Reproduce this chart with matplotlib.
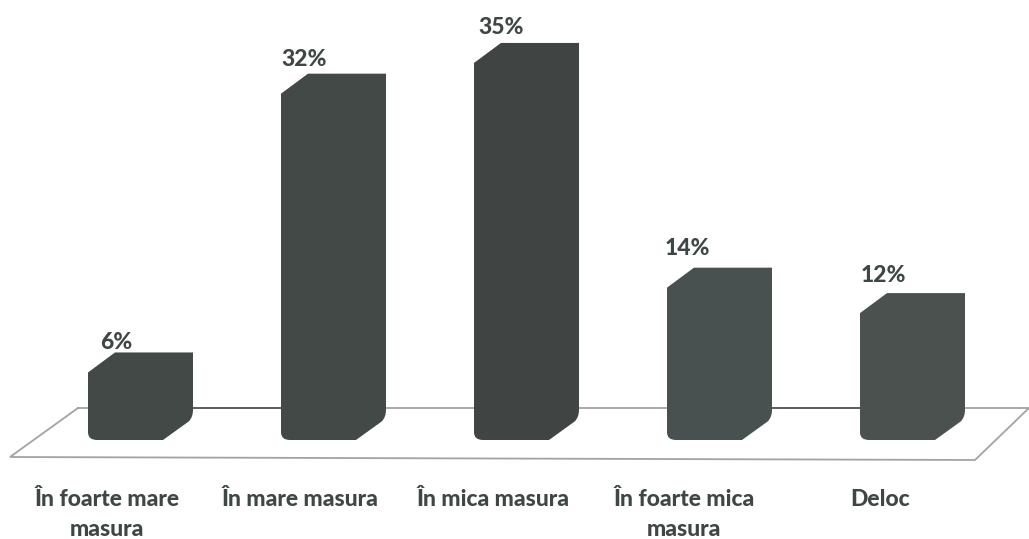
import matplotlib
matplotlib.use("Agg")
import matplotlib.pyplot as plt
from matplotlib.path import Path
from matplotlib.patches import PathPatch

plt.rcParams['font.family'] = ['Lato', 'DejaVu Sans']

categories = ["În foarte mare\nmasura", "În mare masura", "În mica masura", "În foarte mica\nmasura", "Deloc"]
values = [5.9, 32.2, 35.1, 13.9, 11.5]
bar_colors = ["#434947", "#434947", "#404544", "#495050", "#4a514f"]

text_color = "#3f4746"
floor_color = "#a3a3a3"

W, H = 1029, 539
px_per_cat = 193.0   # pixels between bars
px_per_pct = 10.6    # pixels for 1%
base_px = 415        # where 0% sits, on the back of the floor

dx = 30 / px_per_cat   # 3d depth of the bar
dy = 20 / px_per_pct
front_low = -25 / px_per_pct

# nudges of the labels in pixels, the reference has them a bit uneven
value_dx = [-24.5, -29.5, -25.5, -32.5, -29.5]
value_dy = [10, 14.5, 15, 19, 18]
cat_dx = [-33.5, -33.5, -33.5, -35.5, -32.5]

fig = plt.figure(figsize=(W / 100, H / 100), dpi=100)
ax = fig.add_axes([0, 0, 1, 1])
ax.set_xlim(-140.5 / px_per_cat, (W - 140.5) / px_per_cat)
ax.set_ylim((base_px - H) / px_per_pct, base_px / px_per_pct)
ax.axis("off")


def bar_path(i, v):
    left = i - 52.5 / px_per_cat
    right = i + 52.5 / px_per_cat
    front_right = right - dx
    rx = 7 / px_per_cat
    ry = 7 / px_per_pct
    verts = [
        (left, v - dy),
        (left + 27 / px_per_cat, v),
        (right, v),
        (right, front_low + dy + 3 * ry / 7 + ry),
        (right, front_low + dy + 3 * ry / 7),
        (right - rx * 0.6, front_low + dy - ry * 0.2),
        (front_right, front_low),
        (left + rx * 1.3, front_low),
        (left, front_low),
        (left, front_low + ry * 1.1),
        (left, v - dy),
    ]
    codes = [Path.MOVETO, Path.LINETO, Path.LINETO, Path.LINETO, Path.CURVE3, Path.CURVE3,
             Path.LINETO, Path.LINETO, Path.CURVE3, Path.CURVE3, Path.CLOSEPOLY]
    return Path(verts, codes)


# floor
floor_left_back = -62.5 / px_per_cat
floor_right_back = (W - 140.5) / px_per_cat
floor_left_front = -130.5 / px_per_cat
floor_right_front = 834.5 / px_per_cat
back_y = 7 / px_per_pct
front_y_l = -42 / px_per_pct
front_y_r = -45 / px_per_pct
ax.plot([floor_left_back, floor_right_back, floor_right_front, floor_left_front, floor_left_back],
        [back_y, back_y, front_y_r, front_y_l, back_y],
        color=floor_color, lw=1.3, solid_joinstyle="miter", zorder=1)
for i in [0, 3]:
    ax.plot([i + 52.5 / px_per_cat, i + 1 - 52.5 / px_per_cat], [back_y, back_y], color="#5c5f5e", lw=1.4, zorder=1)

for i, v in enumerate(values):
    ax.add_patch(PathPatch(bar_path(i, v), facecolor=bar_colors[i], edgecolor="none", zorder=2))
    ax.annotate(f"{v:.0f}%", (i, v), xytext=(value_dx[i], value_dy[i]), textcoords="offset pixels",
                ha="center", va="center", fontsize=16.5, fontweight="black", color=text_color)
    ax.annotate(categories[i], (i, 0), xytext=(cat_dx[i], -74), textcoords="offset pixels", ha="center", va="top",
                fontsize=16.5, fontweight="black", color=text_color, linespacing=1.5)

fig.savefig("out.png", dpi=100, facecolor="white")
